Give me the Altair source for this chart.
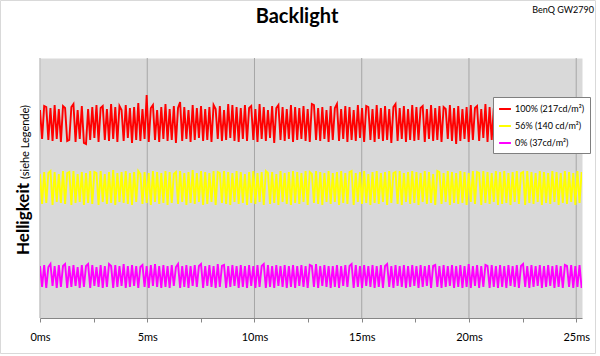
import altair as alt
import pandas as pd

# ---- texts ----
chart_title = "Backlight"
device_label = "BenQ GW2790"
y_title_main = "Helligkeit"
y_title_sub = "(siehe Legende)"

# ---- series ----
series_names = ["100% (217cd/m²)", "56% (140 cd/m²)", "0% (37cd/m²)"]
series_colors = ["#ff0000", "#ffff00", "#ff00ff"]
sample_step_ms = 0.0975

red_values = [
    208,179,212,211,178,210,177,213,179,209,176,212,210,177,178,211,214,176,208,179,
    212,175,174,209,178,211,180,213,176,210,212,178,209,177,214,179,211,176,212,208,
    177,213,180,210,175,211,178,215,177,209,179,223,176,210,213,178,208,176,211,179,
    214,177,209,178,212,175,210,216,177,211,179,208,176,213,178,210,180,212,177,209,
    178,211,176,213,209,179,212,177,208,178,214,180,213,177,211,176,210,179,213,177,
    210,212,178,209,176,214,179,211,177,208,180,212,175,210,213,178,211,177,209,179,
    213,176,211,178,210,179,212,177,209,176,214,213,178,210,177,211,179,208,176,212,
    178,210,214,177,209,179,212,176,211,178,208,177,213,180,210,176,212,211,178,209,
    176,213,179,210,177,212,178,209,175,211,214,177,210,179,212,176,209,178,213,177,
    211,178,210,212,176,209,179,213,177,210,178,212,176,211,209,179,213,177,210,174,
    212,177,209,179,211,176,213,178,210,212,177,209,180,214,176,211,178,210,177,212,
    179,210,176,213,178,209,211,177,212,179,208,176,213,178,210,177,211,179,209,212,
    177,210,178,213,176,211,179,209,177,212,178,210,176,213,179,211,177,209,178,212,
]

yellow_values = [
    144,114,146,115,145,147,113,146,116,144,115,147,114,145,146,113,147,115,144,116,
    146,113,145,115,147,114,146,145,113,147,116,144,114,146,115,148,113,145,116,146,
    115,147,114,145,113,146,116,147,144,114,146,115,145,113,147,116,146,114,145,115,
    147,113,146,115,144,146,114,147,116,145,113,146,115,148,114,145,116,147,113,146,
    114,145,116,147,113,146,145,115,147,114,146,113,145,116,147,114,146,115,144,113,
    146,115,147,114,145,116,146,113,147,145,114,146,115,144,113,147,116,145,114,146,
    113,147,115,146,114,145,116,147,113,146,144,115,147,114,146,113,145,116,147,114,
    145,116,146,113,147,115,145,114,146,147,113,145,116,146,114,147,115,144,113,146,
    115,147,114,145,116,146,113,147,115,145,146,114,147,113,145,116,146,114,147,115,
    146,113,145,116,147,114,146,115,144,113,147,146,114,145,116,147,113,146,115,145,
    114,147,115,146,113,145,116,147,114,146,145,113,147,115,146,114,145,116,147,113,
    146,114,147,115,145,113,146,116,147,114,145,146,113,147,115,146,114,145,116,147,
    113,146,115,145,114,147,116,146,113,145,115,147,114,146,116,145,113,147,115,146,
]

magenta_values = [
    52,31,53,30,51,54,32,52,30,53,31,52,54,30,52,31,53,32,51,30,
    53,31,52,54,30,53,32,51,31,53,30,52,31,54,52,30,53,31,52,32,
    54,30,52,31,53,32,52,30,51,53,31,52,30,53,32,54,31,52,30,53,
    31,52,30,53,32,51,54,30,52,31,53,30,52,32,53,31,52,54,30,52,
    32,53,31,52,30,54,31,52,53,30,52,31,53,32,52,30,53,31,52,30,
    53,32,52,30,53,31,52,54,30,53,31,52,30,53,32,52,31,53,30,52,
    31,53,30,52,32,53,31,52,30,53,52,31,54,30,52,32,53,31,52,30,
    52,31,53,30,52,32,53,31,52,54,30,53,31,52,30,53,32,52,31,53,
    30,52,31,53,30,52,54,31,52,30,53,32,52,31,53,30,52,31,53,32,
    52,30,53,31,52,32,53,30,52,53,31,52,30,53,31,52,32,53,30,52,
    31,53,30,52,31,54,30,52,32,53,30,52,31,53,52,30,53,31,52,30,
    53,31,52,30,53,32,52,31,53,30,52,54,31,52,30,53,31,52,32,53,
    30,52,31,53,32,52,30,53,31,52,30,53,52,31,53,30,52,31,53,30,
]

grid_ms = [0, 5, 10, 15, 20, 25]
tick_ms = [0, 2.5, 5, 7.5, 10, 12.5, 15, 17.5, 20, 22.5, 25]
x_domain = [0, 25.27]
y_domain = [0, 260]

rows = []
for name, vals in zip(series_names, [red_values, yellow_values, magenta_values]):
    for i, v in enumerate(vals):
        rows.append({"t": i * sample_step_ms, "v": v, "series": name})
df = pd.DataFrame(rows)

FONT = "Lato"
x_scale = alt.Scale(domain=x_domain, nice=False, zero=False)
y_scale = alt.Scale(domain=y_domain, nice=False, zero=False)

x_axis = alt.Axis(
    values=tick_ms,
    labelExpr="datum.value % 5 === 0 ? datum.value + 'ms' : ''",
    title=None,
    grid=False,
    domainColor="#868686",
    tickColor="#868686",
    tickSize=4,
    labelPadding=9,
    labelFontSize=11,
    labelFont=FONT,
    labelColor="#000000",
    labelFlush=False,
    labelOverlap=False,
)

one = alt.Data(values=[{}])

border = alt.Chart(one).mark_rect(fillOpacity=0, stroke="#d9d9d9", strokeWidth=1).encode(
    x=alt.value(-39.5), x2=alt.value(555.5), y=alt.value(-57.5), y2=alt.value(295.5)
)

grid = alt.Chart(pd.DataFrame({"t": grid_ms})).mark_rule(color="#a6a6a6", strokeWidth=1).encode(
    x=alt.X("t:Q", scale=x_scale, axis=x_axis)
)

lines = alt.Chart(df).mark_line(strokeWidth=1.9, clip=True).encode(
    x=alt.X("t:Q", scale=x_scale, axis=x_axis),
    y=alt.Y("v:Q", scale=y_scale, axis=None),
    color=alt.Color(
        "series:N",
        sort=series_names,
        scale=alt.Scale(domain=series_names, range=series_colors),
        legend=alt.Legend(
            orient="none",
            legendX=453,
            legendY=39,
            title=None,
            fillColor="white",
            strokeColor="#7f7f7f",
            padding=5,
            symbolType="stroke",
            symbolSize=140,
            symbolStrokeWidth=2,
            labelFontSize=9,
            labelFont=FONT,
            labelColor="#000000",
            rowPadding=5,
            labelOffset=3,
        ),
    ),
    order=alt.Order("t:Q"),
)

title_text = alt.Chart(one).mark_text(align="center", baseline="alphabetic", fontSize=20, fontWeight="bold",
                                      font=FONT, color="#000000").encode(
    x=alt.value(257), y=alt.value(-35), text=alt.value(chart_title)
)
device = alt.Chart(one).mark_text(align="right", baseline="alphabetic", fontSize=9, font=FONT, color="#000000").encode(
    x=alt.value(554), y=alt.value(-45), text=alt.value(device_label)
)
ytitle_main = alt.Chart(one).mark_text(angle=270, align="left", baseline="alphabetic", fontSize=17,
                                       fontWeight="bold", font=FONT, color="#000000").encode(
    x=alt.value(-11), y=alt.value(197), text=alt.value(y_title_main)
)
ytitle_sub = alt.Chart(one).mark_text(angle=270, align="left", baseline="alphabetic", fontSize=11,
                                      font=FONT, color="#000000").encode(
    x=alt.value(-11), y=alt.value(121), text=alt.value(y_title_sub)
)

chart = alt.layer(border, grid, lines, title_text, device, ytitle_main, ytitle_sub).properties(
    width=542,
    height=260,
    padding={"left": 40, "top": 58, "right": 18, "bottom": 38},
    autosize="none",
    background="white",
).configure_view(fill="#d9d9d9", strokeOpacity=0)

chart.save("out.html", embed_options={"renderer": "svg", "actions": False})
